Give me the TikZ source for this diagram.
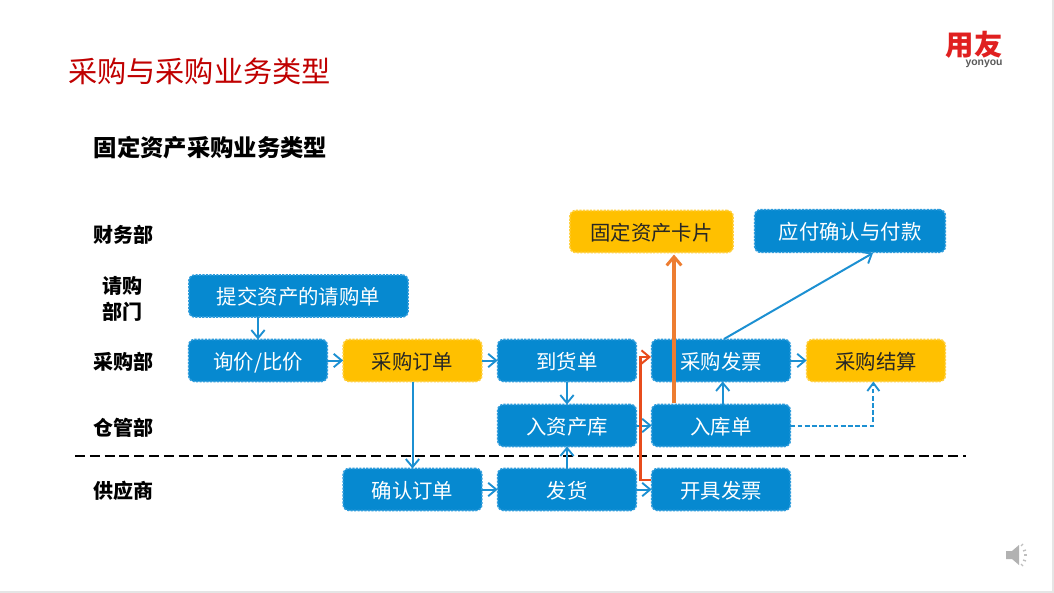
\documentclass[tikz,border=0pt]{standalone}
\usepackage{fontspec}
\setmainfont{Noto Sans CJK SC}
\newfontfamily\latinbold[Scale=1]{Liberation Sans}
\usetikzlibrary{arrows.meta}
\definecolor{boxblue}{HTML}{0689D0}
\definecolor{edgeblue}{HTML}{2E9CDC}
\definecolor{linkblue}{HTML}{1C90D2}
\definecolor{boxgold}{HTML}{FFC000}
\definecolor{edgegold}{HTML}{FFD040}
\definecolor{titlered}{HTML}{C00000}
\definecolor{logored}{HTML}{E02020}
\definecolor{orangeline}{HTML}{ED7D31}
\definecolor{redline}{HTML}{E84C1C}
\tikzset{
  x=0.75pt,y=-0.75pt,
  flowbox/.style={rounded corners=4.5pt,line width=1.2pt,dash pattern=on 1.6pt off 1pt,align=center,inner sep=0pt,outer sep=0pt,text height=14.5pt,text depth=1.6pt,font=\fontsize{15.3pt}{18pt}\selectfont},
  bluebox/.style={flowbox,fill=boxblue,draw=edgeblue,text=white},
  goldbox/.style={flowbox,fill=boxgold,draw=edgegold,text=black!85},
  wideA/.style={minimum width=104pt,minimum height=31.5pt},
  rowlabel/.style={font=\fontsize{15pt}{19.5pt}\selectfont\bfseries,align=center,text=black,inner sep=0pt},
  link/.style={draw=linkblue,line width=1.5pt,-{Straight Barb[length=6pt,width=10pt,line width=1.4pt]}},
  dashlink/.style={draw=linkblue,line width=1.5pt,dash pattern=on 3.6pt off 1.8pt,-{Straight Barb[length=6pt,width=9pt,line width=1.4pt]}},
}
\begin{document}
\begin{tikzpicture}
\useasboundingbox (0,0) rectangle (1054,593);
\fill[black!10] (0,0) rectangle (1054,593);
\fill[white] (0,0) rectangle (1052,590.5);

% heading
\node[anchor=center,text=titlered,inner sep=0pt,font=\fontsize{21.9pt}{26pt}\selectfont] (title) at (199.5,71) {采购与采购业务类型};
\node[anchor=center,text=black,inner sep=0pt,font=\fontsize{17.5pt}{21pt}\selectfont\bfseries] (subtitle) at (210.5,147.5) {固定资产采购业务类型};

% logo
\node[text=logored,inner sep=0pt,font=\fontsize{21.3pt}{24pt}\selectfont\bfseries] (logo) at (974,44.5) {用友};
\node[text=black!65,inner sep=0pt,font=\latinbold\fontsize{7.8pt}{8pt}\selectfont\bfseries] (logotext) at (984,63.5) {yonyou};

% row labels
\node[rowlabel] (lfin) at (123,235) {财务部};
\node[rowlabel] (lreq) at (122,298.5) {请购\\部门};
\node[rowlabel] (lpur) at (123,362) {采购部};
\node[rowlabel] (lwar) at (123,428) {仓管部};
\node[rowlabel] (lsup) at (123,491) {供应商};

% separator
\coordinate (sepL) at (75,456);
\coordinate (sepR) at (966,456);

% boxes
\node[bluebox,minimum width=164.5pt,minimum height=31.5pt] (req) at (298.5,296) {提交资产的请购单};
\node[bluebox,wideA] (inq) at (258,360.5) {询价/比价};
\node[goldbox,wideA] (po) at (412.5,360.5) {采购订单};
\node[bluebox,wideA] (arr) at (567,360.5) {到货单};
\node[bluebox,wideA] (inv) at (721,360.5) {采购发票};
\node[goldbox,wideA] (set) at (876,360.5) {采购结算};
\node[bluebox,wideA] (ast) at (567,425.5) {入资产库};
\node[bluebox,wideA] (stk) at (721,425.5) {入库单};
\node[bluebox,wideA] (cfm) at (412.5,489.5) {确认订单};
\node[bluebox,wideA] (shp) at (567,489.5) {发货};
\node[bluebox,wideA] (bil) at (721,489.5) {开具发票};
\node[goldbox,minimum width=122.5pt,minimum height=31.5pt] (card) at (651.5,231.5) {固定资产卡片};
\node[bluebox,minimum width=143pt,minimum height=32pt] (pay) at (850,231) {应付确认与付款};

\draw[black,line width=1.4pt,dash pattern=on 7.5pt off 3.6pt] (sepL) -- (sepR);

% blue connectors
\draw[link] (req.south -| inq.north) -- (inq.north);
\draw[link] (inq.east) -- (po.west);
\draw[link] (po.east) -- (arr.west);
\draw[link] (inv.east) -- (set.west);
\draw[link] (arr.south) -- (ast.north);
\draw[link] (ast.east) -- (stk.west);
\draw[link] ([xshift=1.3pt]stk.north) -- ([xshift=1.3pt]inv.south);
\draw[link] (cfm.east) -- (shp.west);
\draw[link] (shp.east) -- (bil.west);
\draw[link] (shp.north) -- (ast.south);
\draw[link] (po.south) -- (cfm.north);
\draw[dashlink] (stk.east) -| ([xshift=-2pt]set.south);
\coordinate (invtop) at (724,339);
\coordinate (paybot) at (873,253);
\draw[link] (invtop) -- (paybot);

% highlighted connectors
\coordinate (orgA) at (674,403);
\coordinate (orgB) at (674,254.5);
\draw[draw=orangeline,line width=2.6pt,-{Straight Barb[length=6.5pt,width=11pt,line width=2.2pt]}] (orgA) -- (orgB);
\coordinate (redA) at (651,480);
\coordinate (redB) at (640.5,480);
\coordinate (redC) at (640.5,357);
\coordinate (redD) at (651,357);
\draw[draw=redline,line width=1.7pt,-{Straight Barb[length=6pt,width=10pt,line width=1.5pt]}] (redA) -- (redB) -- (redC) -- (redD);

% speaker icon
\fill[black!30] (1006,551) -- (1012,551) -- (1019,545) -- (1019,565) -- (1012,559) -- (1006,559) -- cycle;
\foreach \a/\b/\c/\d in {1021/546/1023/544,1023/551/1026/550,1024/555/1027/555,1023/560/1026/561,1021/564/1023/566}
  \draw[black!25,line width=1pt] (\a,\b) -- (\c,\d);
\end{tikzpicture}
\end{document}
